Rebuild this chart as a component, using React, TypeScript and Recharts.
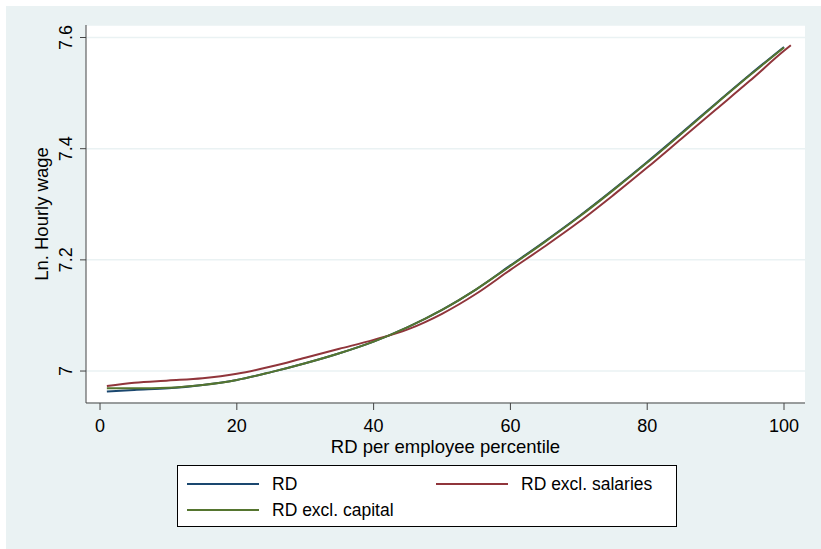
import React from 'react';
import {
  CartesianGrid,
  Label,
  Line,
  LineChart,
  XAxis,
  YAxis,
} from 'recharts';

const percentiles = [1, 5, 10, 15, 20, 25, 30, 35, 40, 45, 50, 55, 60, 65, 70, 75, 80, 85, 90, 95, 100, 101];
const rdValues = [6.963, 6.966, 6.969, 6.975, 6.984, 6.998, 7.014, 7.032, 7.053, 7.079, 7.11, 7.147, 7.19, 7.233, 7.278, 7.326, 7.376, 7.428, 7.481, 7.533, 7.583, null];
const rdExclSalaries = [6.973, 6.979, 6.983, 6.987, 6.995, 7.008, 7.024, 7.04, 7.056, 7.075, 7.103, 7.139, 7.182, 7.224, 7.268, 7.316, 7.366, 7.418, 7.47, 7.522, 7.576, 7.586];
const rdExclCapital = [6.969, 6.969, 6.97, 6.975, 6.984, 6.998, 7.014, 7.032, 7.053, 7.079, 7.11, 7.147, 7.189, 7.232, 7.277, 7.325, 7.375, 7.427, 7.48, 7.532, 7.582, null];
const xTicks = [0, 20, 40, 60, 80, 100];
const yTicks = [7, 7.2, 7.4, 7.6];

const chartData = percentiles.map((p, i) => ({
  pct: p,
  rd: rdValues[i],
  salaries: rdExclSalaries[i],
  capital: rdExclCapital[i],
}));

const FONT = '"Liberation Sans", Arial, sans-serif';
const BG = '#EAF2F3';
const NAVY = '#1A476F';
const MAROON = '#90353B';
const GREEN = '#55752F';

const YTick = (props: any) => {
  const { y, payload } = props;
  return (
    <text
      transform={`translate(66,${y}) rotate(-90)`}
      textAnchor="middle"
      fontFamily={FONT}
      fontSize={18}
      fill="#000"
    >
      {payload.value}
    </text>
  );
};

const legendItems = [
  { name: 'RD', color: NAVY, left: 9, top: 18 },
  { name: 'RD excl. salaries', color: MAROON, left: 258, top: 18 },
  { name: 'RD excl. capital', color: GREEN, left: 9, top: 44 },
];

export default function App() {
  return (
    <div style={{ position: 'absolute', left: 0, top: 0, width: 821, height: 549, background: '#fff' }}>
      <div style={{ position: 'absolute', left: 6, top: 6, width: 815, height: 543, background: BG }}>
        <LineChart
          width={815}
          height={543}
          data={chartData}
          margin={{ top: 19, right: 16, left: 30, bottom: 116 }}
        >
          <CartesianGrid vertical={false} fill="#fff" stroke={BG} strokeWidth={1.5} />
          <XAxis
            dataKey="pct"
            type="number"
            domain={[-2.05, 103.07]}
            ticks={xTicks}
            allowDataOverflow
            height={30}
            tickSize={7}
            tickMargin={9.5}
            stroke="#444"
            tick={{ fill: '#000', fontFamily: FONT, fontSize: 18 }}
          >
            <Label
              value="RD per employee percentile"
              position="bottom"
              offset={7}
              fill="#000"
              fontFamily={FONT}
              fontSize={18.5}
            />
          </XAxis>
          <YAxis
            type="number"
            domain={[6.9425, 7.6225]}
            ticks={yTicks}
            allowDataOverflow
            width={50}
            tickSize={6}
            stroke="#444"
            tick={<YTick />}
          >
            <Label
              content={(p: any) => {
                const vb = p.viewBox;
                const cy = vb.y + vb.height / 2;
                return (
                  <text
                    transform={`translate(${vb.x + 12},${cy}) rotate(-90)`}
                    textAnchor="middle"
                    fontFamily={FONT}
                    fontSize={18.5}
                    fill="#000"
                  >
                    Ln. Hourly wage
                  </text>
                );
              }}
            />
          </YAxis>
          <Line
            type="monotone"
            dataKey="rd"
            stroke={NAVY}
            strokeWidth={2}
            dot={false}
            isAnimationActive={false}
          />
          <Line
            type="monotone"
            dataKey="salaries"
            stroke={MAROON}
            strokeWidth={2}
            dot={false}
            isAnimationActive={false}
          />
          <Line
            type="monotone"
            dataKey="capital"
            stroke={GREEN}
            strokeWidth={2}
            dot={false}
            isAnimationActive={false}
          />
        </LineChart>
        <div
          style={{
            position: 'absolute',
            left: 171,
            top: 459,
            width: 500,
            height: 62,
            boxSizing: 'border-box',
            background: '#fff',
            border: '1px solid #000',
            fontFamily: FONT,
            fontSize: 17.5,
          }}
        >
          {legendItems.map((item) => (
            <div key={item.name} style={{ position: 'absolute', left: item.left, top: item.top - 10, height: 20, display: 'flex', alignItems: 'center' }}>
              <div style={{ width: 72, height: 2, background: item.color }} />
              <span style={{ marginLeft: 13, whiteSpace: 'nowrap' }}>{item.name}</span>
            </div>
          ))}
        </div>
      </div>
    </div>
  );
}
